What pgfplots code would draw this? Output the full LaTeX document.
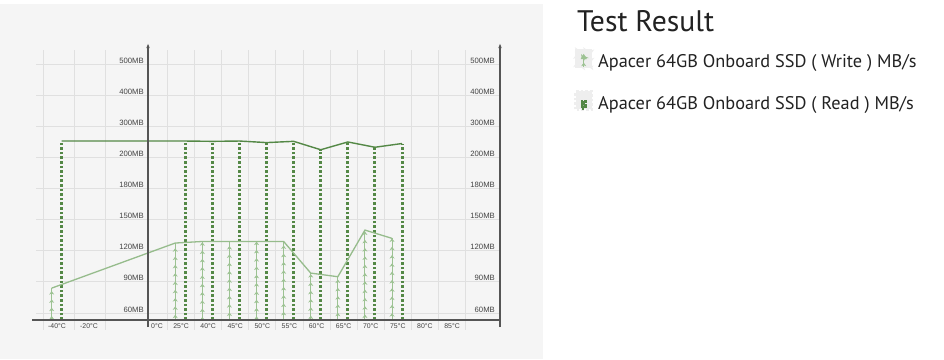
\documentclass[border=0pt]{standalone}
\usepackage{fontspec}
\setmainfont{PT Sans}
\newfontfamily\chartfont{Liberation Sans}
\usepackage{pgfplots}
\pgfplotsset{compat=1.18}
\usepackage{pgfplotstable}
\usetikzlibrary{decorations.markings,arrows.meta}

\definecolor{panel}{HTML}{F5F5F5}
\definecolor{gridc}{HTML}{E0E0E0}
\definecolor{axisc}{HTML}{555555}
\definecolor{labc}{HTML}{444444}
\definecolor{readg}{RGB}{84,136,70}
\definecolor{writeg}{RGB}{156,194,146}
\definecolor{writel}{RGB}{150,188,140}
\definecolor{iconbg}{HTML}{EEEEEE}
\definecolor{txt}{HTML}{222222}

% Write speed (MB/s); k = category position on the x axis
\pgfplotstableread{
k mbs
-3.56 84
1 127.5
2 129
3 129
4 129
5 129
6 98.5
7 95
8 140
9 132
}\writedata
% Read speed (MB/s)
\pgfplotstableread{
k mbs
-3.56 253
1 253
2 252
3 253
4 248
5 252
6 225
7 250
8 233
9 245
}\readdata

\begin{document}
\begin{tikzpicture}[x=1pt,y=1pt]
\fill[white] (0,0) rectangle (944,-359);
\fill[panel] (0,-4) rectangle (543,-359);
\node[anchor=base west, inner sep=0pt, text=txt, font=\fontsize{29.7}{34}\selectfont] at (577,-31) {Test Result};
\begin{axis}[
  at={(32pt,-320pt)}, anchor=south west,
  scale only axis, width=468pt, height=277pt,
  xmin=-4.5, xmax=12.77, ymin=0, ymax=8.907,
  declare function={mbmap(\v)=ifthenelse(\v<=180,(\v-53.25)/30,ifthenelse(\v<=200,4.225+(\v-180)/20,5.225+(\v-200)/100));},
  axis line style={draw=none},
  clip=false,
  major tick length=0pt,
  xtick={-3.576,-2.395,0.114,1,2,3,4,5,6,7,8,9,10,11},
  xticklabels={-40°C,-20°C,0°C,25°C,40°C,45°C,50°C,55°C,60°C,65°C,70°C,75°C,80°C,85°C},
  xticklabel style={font=\chartfont\fontsize{6.9}{8}\selectfont, text=labc, anchor=north, inner sep=0pt, yshift=-3pt},
  ytick={0.225,1.225,2.225,3.225,4.225,5.225,6.225,7.225,8.225},
  yticklabels={60MB,90MB,120MB,150MB,180MB,200MB,300MB,400MB,500MB},
  yticklabel style={font=\chartfont\fontsize{7.7}{9}\selectfont, text=labc, anchor=base east, inner sep=0pt, xshift=112pt, yshift=1pt},
  extra y ticks={0.225,1.225,2.225,3.225,4.225,5.225,6.225,7.225,8.225},
  extra y tick labels={60MB,90MB,120MB,150MB,180MB,200MB,300MB,400MB,500MB},
  extra y tick style={yticklabel style={xshift=351pt}},
  legend style={at={(1.156,0.9856)}, anchor=north west, draw=none, fill=none,
    font=\fontsize{18.3}{22}\selectfont, text=txt, row sep=19pt, inner sep=0pt,
    column sep=2pt},
  legend cell align=left,
]
% grid
\pgfplotsinvokeforeach{0.225,1.225,2.225,3.225,4.225,5.225,6.225,7.225,8.225}{
  \draw[gridc, line width=0.9pt] (axis cs:-4.35,#1) -- (axis cs:12.77,#1);
}
\pgfplotsinvokeforeach{-4.09,-2.95,-1.80,0.5,1.5,2.5,3.5,4.5,5.5,6.5,7.5,8.5,9.5,10.5,11.5}{
  \draw[gridc, line width=0.9pt] (axis cs:#1,-0.32) -- (axis cs:#1,8.68);
}
% write bars
\addplot[ycomb, writeg, line width=0.9pt,
  postaction={decorate},
  decoration={markings, mark=between positions 4pt and 1 step 8.3pt with {\arrow{Stealth[length=3.5pt,width=5pt]}}},
  legend image code/.code={
    \fill[iconbg] (0pt,-6pt) rectangle (16pt,12pt);
    \draw[writeg, line width=0.9pt] (8pt,-5pt) -- (8pt,4pt);
    \fill[writeg] (8pt,7pt) -- (5.6pt,3pt) -- (10.4pt,3pt) -- cycle;
  }]
  table[x expr=\thisrow{k}-0.214, y expr={mbmap(\thisrow{mbs})}]{\writedata};
\addlegendentry{Apacer 64GB Onboard SSD ( Write ) MB/s}
% read bars
\addplot[ycomb, readg, line width=3pt, dash pattern=on 2.6pt off 2pt,
  legend image code/.code={
    \fill[iconbg] (0pt,-6pt) rectangle (16pt,12pt);
    \fill[readg] (6.5pt,-5pt) rectangle (9.5pt,-2.5pt);
    \fill[readg] (6.5pt,-0.5pt) rectangle (9.5pt,2pt);
  }]
  table[x expr=\thisrow{k}+0.155, y expr={mbmap(\thisrow{mbs})}]{\readdata};
\addlegendentry{Apacer 64GB Onboard SSD ( Read ) MB/s}
% lines over the tops
\addplot[writel, line width=1.3pt, forget plot]
  table[x expr=\thisrow{k}-0.214, y expr={mbmap(\thisrow{mbs})}]{\writedata};
\addplot[readg, line width=1.4pt, forget plot]
  table[x expr=\thisrow{k}+0.155, y expr={mbmap(\thisrow{mbs})}]{\readdata};
% axis lines
\draw[axisc, line width=1.6pt] (axis cs:-4.5,0) -- (axis cs:12.77,0);
\draw[axisc, line width=1.2pt, -{Latex[length=5pt,width=3.5pt]}] (axis cs:-0.218,-0.225) -- (axis cs:-0.218,8.907);
\draw[axisc, line width=1.2pt, -{Latex[length=5pt,width=3.5pt]}] (axis cs:12.77,-0.225) -- (axis cs:12.77,8.907);
\end{axis}
\pgfresetboundingbox
\path (0,0) rectangle (944,-359);
\end{tikzpicture}
\end{document}
